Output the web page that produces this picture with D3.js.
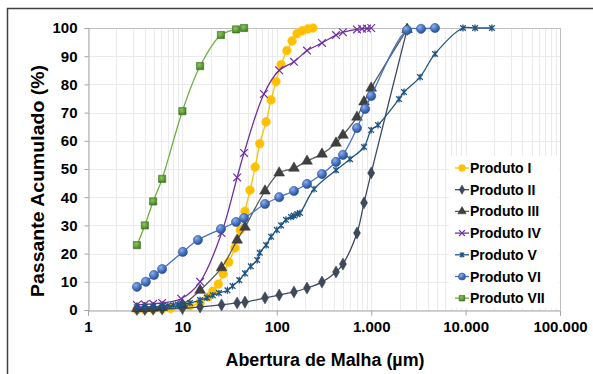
<!DOCTYPE html>
<html>
<head>
<meta charset="utf-8">
<script src="https://cdn.jsdelivr.net/npm/d3@7"></script>
<style>
  body { margin: 0; background: #fff; }
  svg { display: block; font-family: Arial, "Liberation Sans", sans-serif; }
</style>
</head>
<body>
<div id="chart"></div>
<script>
// Curvas granulométricas, valores (abertura em µm, passante em %)
const produtoI = [[3.3,0.1],[4,0.2],[4.9,0.3],[6.1,0.4],[7.5,0.6],[10,1.0],[12,1.5],[15.4,2.6],[18.7,4.6],[21,6.7],[24,9.2],[27,12.8],[31,17],[36,22],[41,28.4],[46,35],[52,42.5],[59,50.7],[66,59],[77,66.7],[87,74.5],[98,81],[111,87],[128,92],[145,95.4],[164,98],[185,99],[214,99.7],[242,100]];
const produtoII = [[3.3,0.2],[4,0.2],[4.9,0.3],[6.1,0.4],[10,0.6],[15.4,1.1],[26,1.8],[38,2.5],[46,2.8],[75,4.3],[106,5.3],[152,6.4],[209,7.8],[301,9.9],[424,13.5],[502,16.3],[707,27.3],[839,38],[1000,48.6],[2400,99.5]];
const produtoIII = [[3.3,0.5],[4,0.6],[4.9,0.7],[6.1,0.9],[10,2],[15.4,7],[26,15],[38,24.8],[46,29.4],[75,42.2],[106,48.6],[152,50.3],[209,52.8],[301,55.3],[424,59.2],[502,62],[707,68.4],[839,73.8],[1000,78.7],[2400,99.5]];
const produtoIV = [[3.3,1.8],[4,2],[4.9,2.2],[6.1,2.5],[9.7,4],[15.4,10],[26,27.3],[38,47],[45,55.7],[73,76.6],[106,85],[152,88],[209,92],[301,94.7],[424,97.5],[502,98.5],[707,99.5],[800,99.7],[903,99.8],[1000,100]];
const produtoV = [[3.3,1.0],[4,1.1],[4.9,1.2],[6.1,1.4],[7,1.5],[8,1.7],[9,1.9],[10,2.1],[12,2.5],[15.4,3.5],[18.2,4.4],[21,5.2],[24.4,6],[30,7],[34,8.5],[40,10.6],[46,13],[53,15.5],[62,17.7],[66,20.3],[77,23],[87,26],[100,28.4],[111,30],[125,32],[141,33],[152,33.5],[165,34],[176,34.4],[248,42.9],[424,49.6],[596,53.5],[839,57.8],[1000,63.8],[1180,65.6],[1970,74.8],[2225,77.3],[3290,82.6],[4740,90.8],[9380,100],[12600,100],[19000,100]];
const produtoVI = [[3.3,8.2],[4.1,10],[5,12.4],[6.1,14.5],[10.1,20.6],[14.6,24.8],[25.6,28.7],[37,31.2],[45,32.6],[75,37.6],[106,40],[152,42.2],[209,44.7],[301,48.2],[424,52.5],[502,55],[707,64.5],[862,71.3],[1000,75.9],[2400,99.3],[3370,99.7],[4740,100]];
const produtoVII = [[3.3,23],[4,30],[4.9,38.5],[6.1,46.5],[10,70.5],[15.4,86.5],[25.6,97.5],[37,99.5],[45,100]];

const seriesNames = ["Produto I", "Produto II", "Produto III", "Produto IV", "Produto V", "Produto VI", "Produto VII"];
const seriesData = [produtoI, produtoII, produtoIII, produtoIV, produtoV, produtoVI, produtoVII];
const xTicks = [1, 10, 100, 1000, 10000, 100000];
const yTicks = [0, 10, 20, 30, 40, 50, 60, 70, 80, 90, 100];

// asterisco (x + traço vertical) usado no Produto V
const symbolAsterisk = {
  draw(ctx, size) {
    const r = Math.sqrt(size) / 2;
    ctx.moveTo(-r, -r); ctx.lineTo(r, r);
    ctx.moveTo(-r, r); ctx.lineTo(r, -r);
    ctx.moveTo(0, -r * 1.2); ctx.lineTo(0, r * 1.2);
  }
};

const styles = [
  { line: "#FFC000", type: d3.symbolCircle, size: 60, fill: "#FFC000", stroke: "#FFC000", sw: 0.5 },
  { line: "#404D5E", type: d3.symbolDiamond, size: 42, fill: "#3E4A5B", stroke: "#2E3846", sw: 0.5 },
  { line: "#595959", type: d3.symbolTriangle, size: 50, fill: "#404040", stroke: "#303030", sw: 0.5 },
  { line: "#7030A0", type: d3.symbolX, size: 40, fill: "none", stroke: "#7030A0", sw: 1.2 },
  { line: "#1F5582", type: symbolAsterisk, size: 32, fill: "none", stroke: "#1F5582", sw: 1.3 },
  { line: "#4472C4", type: d3.symbolCircle, size: 66, fill: "url(#gBlue)", stroke: "#2F5597", sw: 0.6 },
  { line: "#70AD47", type: d3.symbolSquare, size: 52, fill: "url(#gGreen)", stroke: "#3C6E24", sw: 0.6 }
];

const W = 593, H = 374;
const pLeft = 88, pRight = 560, pTop = 28, pBottom = 310;

const svg = d3.select("#chart").append("svg").attr("width", W).attr("height", H);

const defs = svg.append("defs");
const gb = defs.append("radialGradient").attr("id", "gBlue").attr("cx", "35%").attr("cy", "30%").attr("r", "70%");
gb.append("stop").attr("offset", "0%").attr("stop-color", "#8FB0E8");
gb.append("stop").attr("offset", "60%").attr("stop-color", "#4472C4");
gb.append("stop").attr("offset", "100%").attr("stop-color", "#2B4F8F");
const gg = defs.append("radialGradient").attr("id", "gGreen").attr("cx", "40%").attr("cy", "35%").attr("r", "70%");
gg.append("stop").attr("offset", "0%").attr("stop-color", "#8DC45E");
gg.append("stop").attr("offset", "65%").attr("stop-color", "#5A9A34");
gg.append("stop").attr("offset", "100%").attr("stop-color", "#3E7424");

// moldura externa do gráfico
svg.append("path")
  .attr("d", `M7.5,${H + 2} V8.5 H${W + 2}`)
  .attr("fill", "none").attr("stroke", "#404040").attr("stroke-width", 1.5);

const x = d3.scaleLog().domain([1, 100000]).range([pLeft, pRight]);
const y = d3.scaleLinear().domain([0, 100]).range([pBottom, pTop]);

// grade
const minor = [];
for (let d = 1; d < 100000; d *= 10) for (let k = 1; k <= 10; k++) minor.push(d * k);
svg.append("g").selectAll("line").data(minor).join("line")
  .attr("x1", d => Math.round(x(d)) + 0.5).attr("x2", d => Math.round(x(d)) + 0.5)
  .attr("y1", pTop).attr("y2", pBottom)
  .attr("stroke", "#EBEBEB").attr("stroke-width", 1);
svg.append("g").selectAll("line").data(yTicks).join("line")
  .attr("x1", pLeft).attr("x2", pRight)
  .attr("y1", d => Math.round(y(d)) + 0.5).attr("y2", d => Math.round(y(d)) + 0.5)
  .attr("stroke", "#EBEBEB").attr("stroke-width", 1);

// borda da área de plotagem
svg.append("path")
  .attr("d", `M${pLeft},${pTop + 0.5} H${pRight + 0.5} V${pBottom}`)
  .attr("fill", "none").attr("stroke", "#BFBFBF").attr("stroke-width", 1);

// eixos
const fmt = d => d3.format(",")(d).replace(/,/g, ".");
const xAxis = svg.append("g").attr("transform", `translate(0,${pBottom + 0.5})`)
  .call(d3.axisBottom(x).tickValues(xTicks).tickFormat(fmt).tickSize(5).tickPadding(6));
const yAxis = svg.append("g").attr("transform", `translate(${pLeft + 0.5},0)`)
  .call(d3.axisLeft(y).tickValues(yTicks).tickSize(4).tickPadding(7));
[xAxis, yAxis].forEach(a => {
  a.select(".domain").attr("stroke", "#A6A6A6");
  a.selectAll(".tick line").attr("stroke", "#A6A6A6");
  a.selectAll("text").attr("fill", "#000").attr("font-size", 15).attr("font-weight", "bold")
    .attr("font-family", "Arial, 'Liberation Sans', sans-serif");
});

// curvas
const line = d3.line()
  .x(d => x(d[0])).y(d => y(d[1]))
  .curve(d3.curveCatmullRom.alpha(0.5));

seriesData.forEach((data, i) => {
  const s = styles[i];
  const g = svg.append("g");
  g.append("path").datum(data)
    .attr("d", line)
    .attr("fill", "none").attr("stroke", s.line).attr("stroke-width", 1.3);
  g.selectAll("path.m").data(data).join("path")
    .attr("class", "m")
    .attr("d", d3.symbol().type(s.type).size(s.size))
    .attr("transform", d => `translate(${x(d[0])},${y(d[1])})`)
    .attr("fill", s.fill).attr("stroke", s.stroke).attr("stroke-width", s.sw);
});

// legenda
const lg = svg.append("g");
lg.append("rect").attr("x", 449).attr("y", 156).attr("width", 110).attr("height", 152).attr("fill", "#fff");
seriesNames.forEach((name, i) => {
  const s = styles[i];
  const cy = 168 + i * 21.7;
  lg.append("line").attr("x1", 455).attr("x2", 469).attr("y1", cy).attr("y2", cy)
    .attr("stroke", s.line).attr("stroke-width", 1.3);
  lg.append("path")
    .attr("d", d3.symbol().type(s.type).size(s.size * 0.6)())
    .attr("transform", `translate(462,${cy})`)
    .attr("fill", s.fill).attr("stroke", s.stroke).attr("stroke-width", s.sw);
  lg.append("text").attr("x", 470).attr("y", cy + 5)
    .attr("font-size", 14).attr("font-weight", "bold").attr("fill", "#000")
    .text(name);
});

// títulos dos eixos
svg.append("text").attr("x", 325).attr("y", 366).attr("text-anchor", "middle")
  .attr("font-size", 18).attr("font-weight", "bold").attr("fill", "#000")
  .attr("textLength", 199).attr("lengthAdjust", "spacingAndGlyphs")
  .text("Abertura de Malha (µm)");
svg.append("text").attr("transform", "translate(44,181) rotate(-90)").attr("text-anchor", "middle")
  .attr("font-size", 17.5).attr("font-weight", "bold").attr("fill", "#000")
  .attr("textLength", 232).attr("lengthAdjust", "spacingAndGlyphs")
  .text("Passante Acumulado (%)");
</script>
</body>
</html>
